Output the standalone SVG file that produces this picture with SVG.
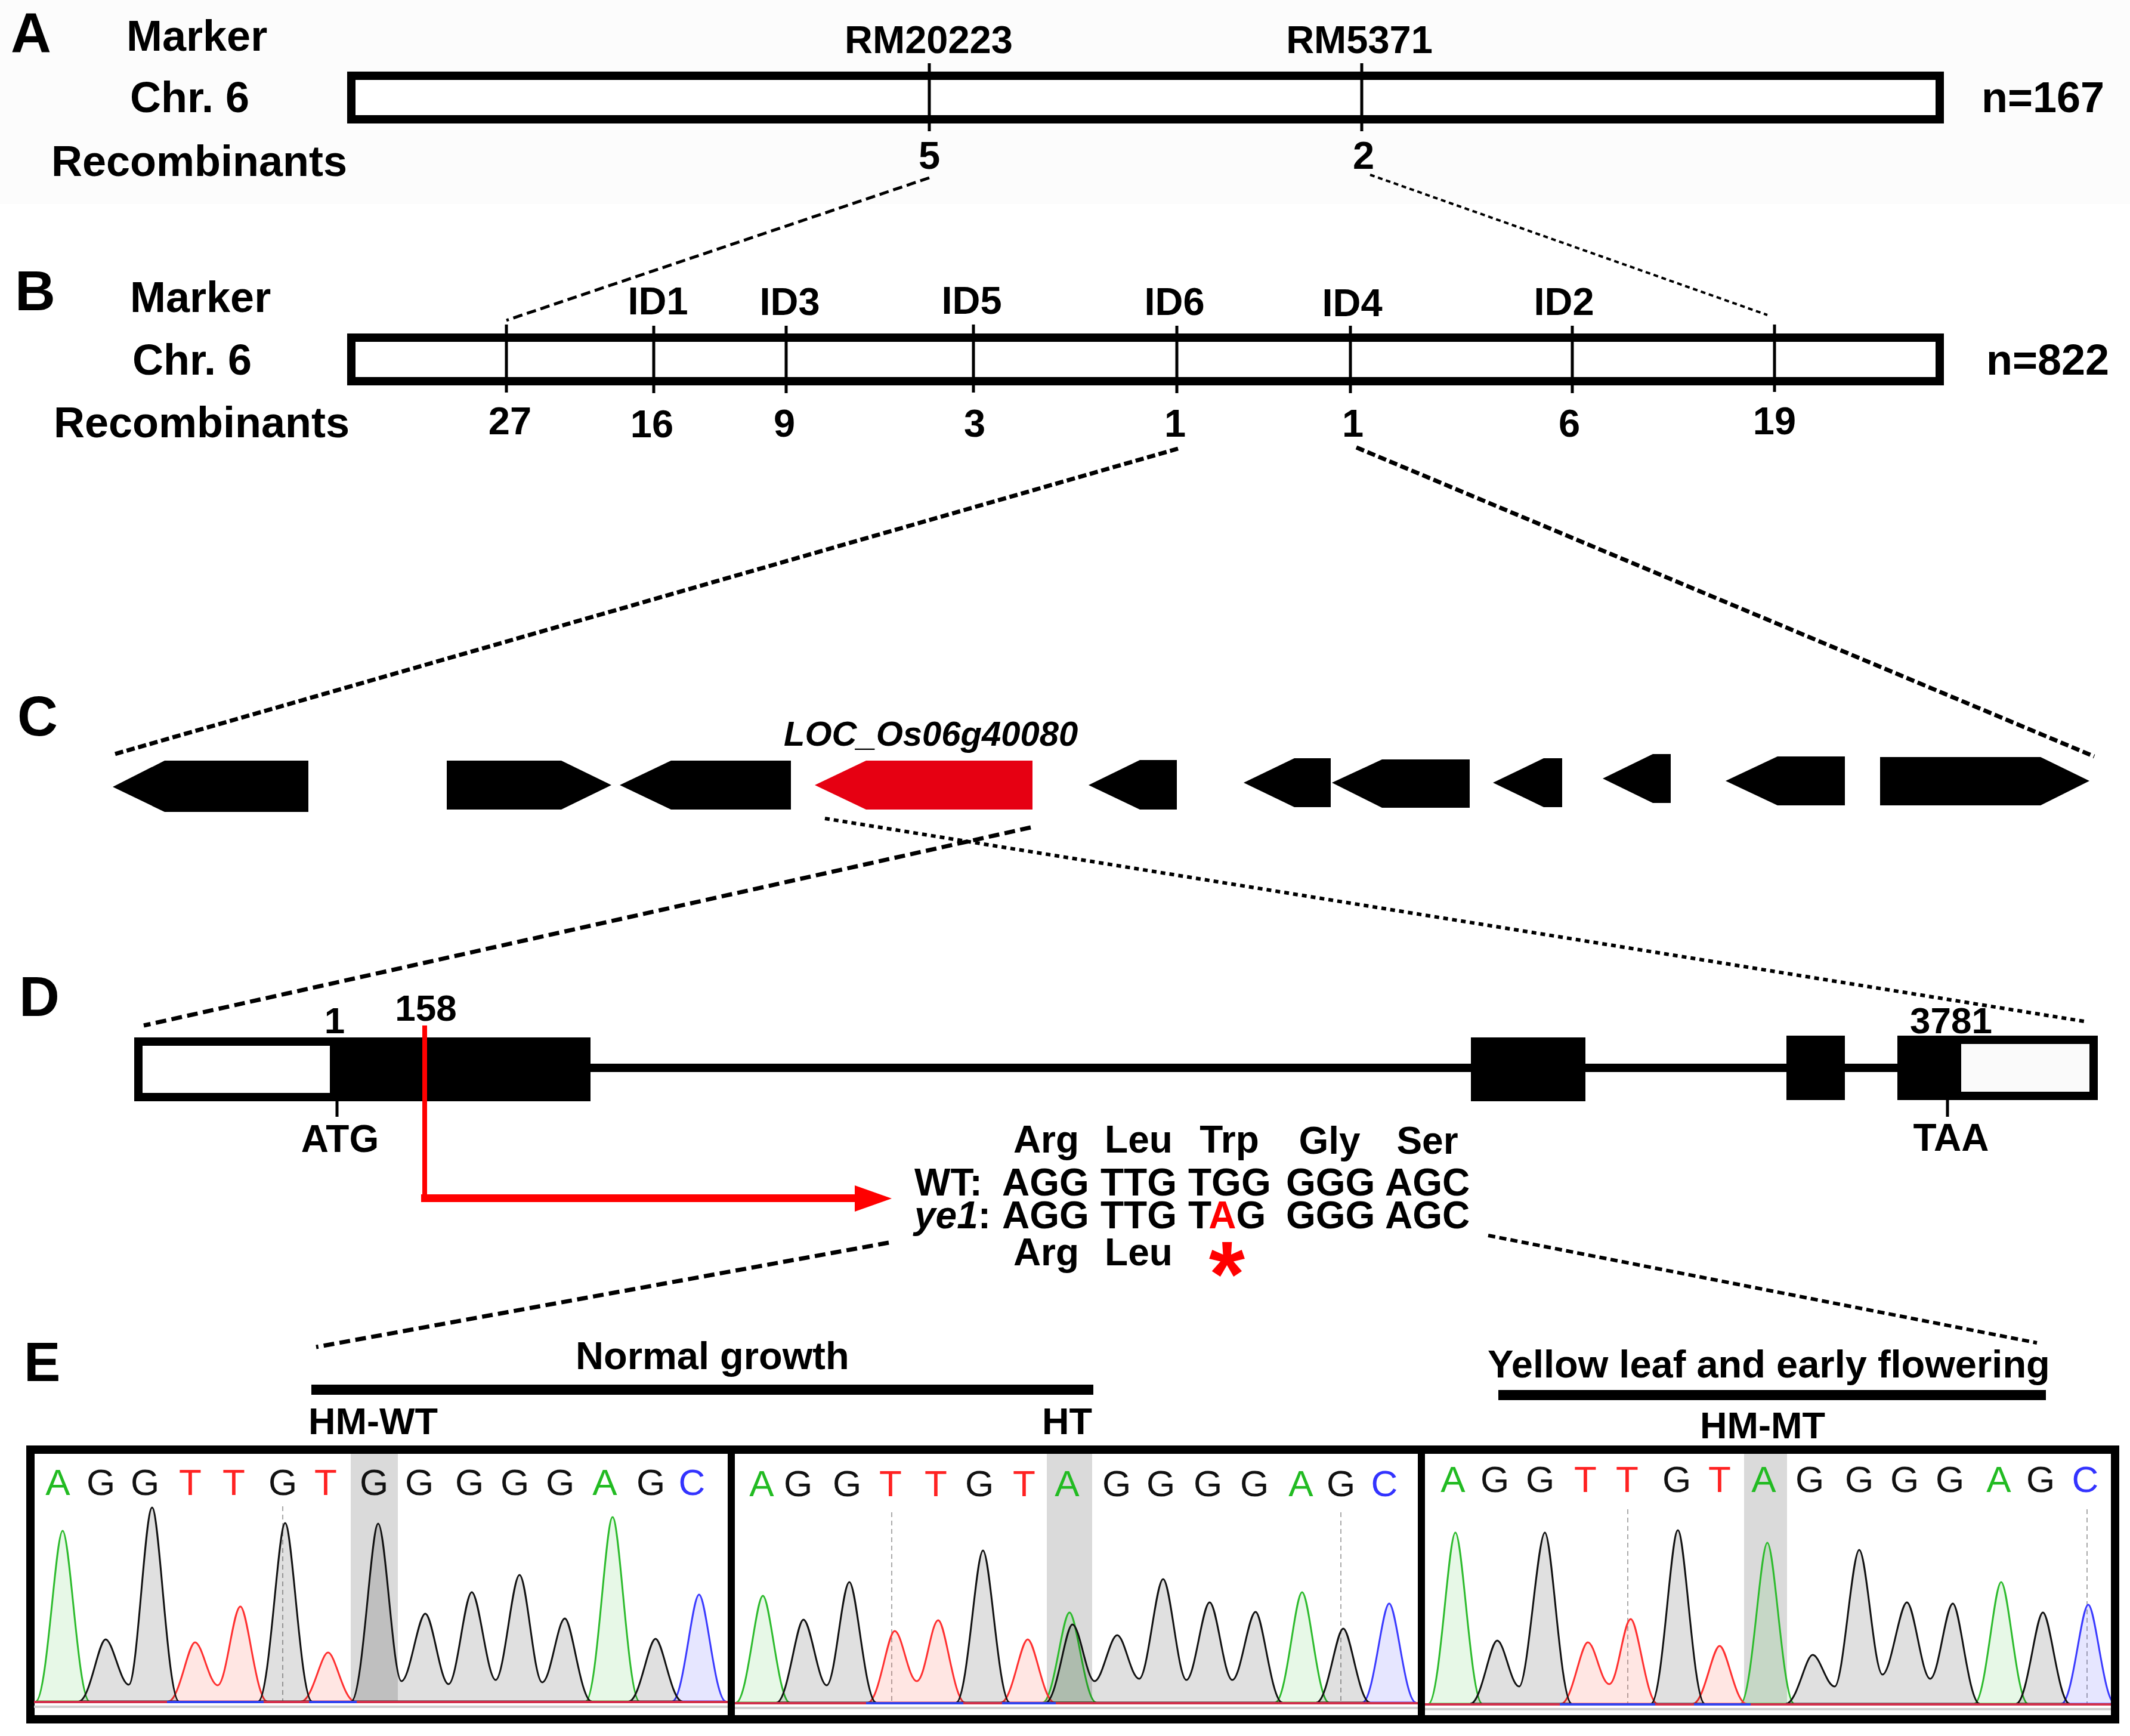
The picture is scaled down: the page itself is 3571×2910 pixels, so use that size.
<svg xmlns="http://www.w3.org/2000/svg" width="3571" height="2910" viewBox="0 0 3571 2910">
<defs>
<style>
.t{font-family:"Liberation Sans",Arial,sans-serif;font-weight:bold;fill:#000}
.lab{font-size:72px}
.pl{font-size:94px}
.mk{font-size:65px}
.aa{font-size:64px}
.bar{fill:#fff;stroke:#000;stroke-width:14}
.tick{stroke:#000;stroke-width:5}
.dl{fill:none;stroke:#000}
.gene{fill:#000}
.cl{font-family:"Liberation Sans",Arial,sans-serif;font-size:62px;font-weight:normal}
.cA{fill:#22bb22}.cG{fill:#111}.cT{fill:#ff2222}.cC{fill:#3333ff}
.pk{stroke-width:3}
.pG{stroke:#111;fill:rgba(0,0,0,0.12)}
.pA{stroke:#2dbb2d;fill:rgba(40,190,40,0.11)}
.pT{stroke:#ff3030;fill:rgba(255,60,40,0.13)}
.pC{stroke:#3a3aff;fill:rgba(60,60,255,0.13)}
.gd{stroke:#aaa;stroke-width:2;stroke-dasharray:8 6}
</style>
<clipPath id="cp1"><rect x="57" y="2437" width="1163" height="438"/></clipPath>
<clipPath id="cp2"><rect x="1232" y="2437" width="1145" height="438"/></clipPath>
<clipPath id="cp3"><rect x="2389" y="2437" width="1150" height="438"/></clipPath>
</defs>
<rect width="3571" height="2910" fill="#fff"/>
<rect width="3571" height="342" fill="#fcfcfc"/>

<g id="panelA">
<text class="t pl" x="18" y="88">A</text>
<text class="t lab" x="212" y="85">Marker</text>
<text class="t lab" x="218" y="188">Chr. 6</text>
<text class="t lab" x="86" y="295">Recombinants</text>
<rect class="bar" x="589" y="127" width="2663" height="73"/>
<line class="tick" x1="1558" y1="106" x2="1558" y2="220"/>
<line class="tick" x1="2283" y1="106" x2="2283" y2="220"/>
<text class="t mk" x="1557" y="89" text-anchor="middle">RM20223</text>
<text class="t mk" x="2279" y="89" text-anchor="middle">RM5371</text>
<text class="t mk" x="1558" y="283" text-anchor="middle">5</text>
<text class="t mk" x="2286" y="283" text-anchor="middle">2</text>
<text class="t lab" x="3322" y="188">n=167</text>
</g>

<g id="panelB">
<text class="t pl" x="25" y="520">B</text>
<text class="t lab" x="218" y="523">Marker</text>
<text class="t lab" x="222" y="628">Chr. 6</text>
<text class="t lab" x="90" y="733">Recombinants</text>
<rect class="bar" x="589" y="566" width="2663" height="73"/>
<g class="tick">
<line x1="849" y1="544" x2="849" y2="658"/>
<line x1="1096" y1="546" x2="1096" y2="659"/>
<line x1="1318" y1="546" x2="1318" y2="659"/>
<line x1="1632" y1="544" x2="1632" y2="658"/>
<line x1="1973" y1="546" x2="1973" y2="659"/>
<line x1="2264" y1="546" x2="2264" y2="659"/>
<line x1="2636" y1="546" x2="2636" y2="659"/>
<line x1="2975" y1="544" x2="2975" y2="657"/>
</g>
<g class="t mk" text-anchor="middle">
<text x="1103" y="527">ID1</text>
<text x="1324" y="528">ID3</text>
<text x="1629" y="526">ID5</text>
<text x="1969" y="528">ID6</text>
<text x="2267" y="530">ID4</text>
<text x="2622" y="528">ID2</text>
<text x="855" y="728">27</text>
<text x="1093" y="733">16</text>
<text x="1315" y="732">9</text>
<text x="1634" y="732">3</text>
<text x="1970" y="732">1</text>
<text x="2268" y="732">1</text>
<text x="2631" y="732">6</text>
<text x="2975" y="728">19</text>
</g>
<text class="t lab" x="3330" y="628">n=822</text>
</g>

<g id="panelC">
<text class="t pl" x="29" y="1233">C</text>
<text class="t" x="1314" y="1250" font-size="58" font-style="italic">LOC_Os06g40080</text>
<polygon class="gene" points="189,1319 276,1275 517,1275 517,1361 276,1361"/>
<polygon class="gene" points="749,1275 941,1275 1025,1316 941,1357 749,1357"/>
<polygon class="gene" points="1039,1316 1125,1275 1326,1275 1326,1357 1125,1357"/>
<polygon id="target" fill="#e60012" points="1366,1316 1452,1275 1731,1275 1731,1357 1452,1357"/>
<polygon class="gene" points="1825,1316 1911,1274 1973,1274 1973,1357 1911,1357"/>
<polygon class="gene" points="2085,1312 2170,1271 2231,1271 2231,1353 2170,1353"/>
<polygon class="gene" points="2233,1312 2317,1273 2464,1273 2464,1354 2317,1354"/>
<polygon class="gene" points="2503,1312 2588,1271 2619,1271 2619,1353 2588,1353"/>
<polygon class="gene" points="2687,1305 2771,1264 2801,1264 2801,1346 2771,1346"/>
<polygon class="gene" points="2893,1309 2980,1268 3093,1268 3093,1350 2980,1350"/>
<polygon class="gene" points="3152,1269 3421,1269 3503,1309 3421,1350 3152,1350"/>
</g>

<g id="panelD">
<text class="t pl" x="32" y="1703">D</text>
<rect x="990" y="1783" width="2195" height="14" fill="#000"/>
<rect x="232" y="1746" width="328" height="93" fill="#fff" stroke="#000" stroke-width="14"/>
<rect x="560" y="1739" width="430" height="107" fill="#000"/>
<rect x="2466" y="1739" width="192" height="107" fill="#000"/>
<rect x="2995" y="1736" width="98" height="108" fill="#000"/>
<rect x="3181" y="1736" width="93" height="108" fill="#000"/>
<rect x="3281" y="1743" width="229" height="94" fill="#fafafa" stroke="#000" stroke-width="14"/>
<line class="tick" x1="565" y1="1846" x2="565" y2="1872"/>
<line class="tick" x1="3265" y1="1844" x2="3265" y2="1872"/>
<g class="t" font-size="62" text-anchor="middle">
<text x="561" y="1732">1</text>
<text x="714" y="1711">158</text>
<text x="3271" y="1732">3781</text>
</g>
<g class="t aa" text-anchor="middle">
<text x="570" y="1931">ATG</text>
<text x="3271" y="1929">TAA</text>
</g>
<line x1="712" y1="1719" x2="712" y2="2008" stroke="#ff0000" stroke-width="8"/>
<rect x="706" y="2002" width="729" height="13" fill="#ff0000"/>
<polygon points="1433,1987 1495,2009 1433,2031" fill="#ff0000"/>
<g class="t aa" text-anchor="middle">
<text x="1754" y="1932">Arg</text>
<text x="1909" y="1932">Leu</text>
<text x="2061" y="1932">Trp</text>
<text x="2229" y="1934">Gly</text>
<text x="2393" y="1934">Ser</text>
<text x="1754" y="2121">Arg</text>
<text x="1909" y="2121">Leu</text>
</g>
<g class="t aa">
<text x="1533" y="2004">WT:</text>
<text x="1680" y="2004">AGG</text>
<text x="1845" y="2004">TTG</text>
<text x="1992" y="2004">TGG</text>
<text x="2156" y="2004">GGG</text>
<text x="2322" y="2004">AGC</text>
<text x="1533" y="2059"><tspan font-style="italic">ye1</tspan>:</text>
<text x="1680" y="2059">AGG</text>
<text x="1845" y="2059">TTG</text>
<text x="1992" y="2059">T<tspan fill="#ff0000">A</tspan>G</text>
<text x="2156" y="2059">GGG</text>
<text x="2322" y="2059">AGC</text>
</g>
<text class="t" x="2057" y="2189" font-size="155" text-anchor="middle" style="fill:#ff0000">*</text>
</g>

<g id="connectors">
<line class="dl" x1="1558" y1="298" x2="849" y2="537" stroke-width="5" stroke-dasharray="16 8"/>
<line class="dl" x1="2297" y1="293" x2="2963" y2="528" stroke-width="4" stroke-dasharray="8 6"/>
<line class="dl" x1="1975" y1="752" x2="189" y2="1265" stroke-width="7" stroke-dasharray="14 6"/>
<line class="dl" x1="2274" y1="750" x2="3511" y2="1268" stroke-width="7" stroke-dasharray="14 6"/>
<line class="dl" x1="1383" y1="1372" x2="3500" y2="1713" stroke-width="6" stroke-dasharray="8 7"/>
<line class="dl" x1="1728" y1="1387" x2="241" y2="1719" stroke-width="7" stroke-dasharray="18 9"/>
<line class="dl" x1="1490" y1="2083" x2="530" y2="2258" stroke-width="7" stroke-dasharray="18 9"/>
<line class="dl" x1="2495" y1="2071" x2="3415" y2="2251" stroke-width="6" stroke-dasharray="12 7"/>
</g>

<g id="panelE">
<text class="t" x="40" y="2315" font-size="92">E</text>
<text class="t mk" x="965" y="2295">Normal growth</text>
<rect x="522" y="2321" width="1311" height="17" fill="#000"/>
<text class="t" x="517" y="2404" font-size="63">HM-WT</text>
<text class="t" x="1789" y="2404" font-size="63" text-anchor="middle">HT</text>
<text class="t mk" x="2494" y="2309">Yellow leaf and early flowering</text>
<rect x="2512" y="2330" width="918" height="17" fill="#000"/>
<text class="t" x="2955" y="2411" font-size="63" text-anchor="middle">HM-MT</text>
</g>

<g id="chromatograms">
<rect x="51" y="2430" width="3495" height="452" fill="#fff" stroke="#000" stroke-width="14"/>
<rect x="1220" y="2430" width="12" height="452" fill="#000"/>
<rect x="2377" y="2430" width="12" height="452" fill="#000"/>

<g id="trace-HM-WT" clip-path="url(#cp1)">
<rect x="588" y="2437" width="79" height="415" fill="#dadada"/>
<line x1="57" y1="2861" x2="1220" y2="2861" stroke="#cfcfcf" stroke-width="4"/>
<line class="gd" x1="474" y1="2525" x2="474" y2="2852"/>
<path class="pk pA" d="M60,2852 C79,2852 93,2566 105,2566 C117,2566 131,2852 150,2852 Z"/>
<path class="pk pA" d="M982,2852 C1001,2852 1015,2543 1027,2543 C1039,2543 1053,2852 1072,2852 Z"/>
<path class="pk pC" d="M1127,2852 C1146,2852 1160,2673 1172,2673 C1184,2673 1198,2852 1217,2852 Z"/>
<path class="pk pT" d="M282,2852 C301,2852 315,2753 327,2753 C339,2753 351,2825 365,2825 C379,2825 391,2693 403,2693 C415,2693 429,2852 448,2852 Z"/>
<path class="pk pT" d="M505,2852 C524,2852 538,2770 550,2770 C562,2770 576,2852 595,2852 Z"/>
<path class="pk pG" d="M132,2852 C151,2852 165,2748 177,2748 C189,2748 202,2824 216,2824 C230,2824 243,2527 255,2527 C267,2527 281,2852 300,2852 Z"/>
<path class="pk pG" d="M433,2852 C452,2852 466,2553 478,2553 C490,2553 504,2852 523,2852 Z"/>
<path class="pk pG" d="M589,2852 C608,2852 622,2554 634,2554 C646,2554 659,2818 673,2818 C687,2818 701,2705 713,2705 C725,2705 738,2823 752,2823 C766,2823 779,2669 791,2669 C803,2669 817,2816 831,2816 C845,2816 859,2640 871,2640 C883,2640 895,2820 909,2820 C923,2820 935,2713 947,2713 C959,2713 973,2852 992,2852 Z"/>
<path class="pk pG" d="M1054,2852 C1073,2852 1087,2747 1099,2747 C1111,2747 1125,2852 1144,2852 Z"/>
<line x1="57" y1="2853" x2="1220" y2="2853" stroke="#d2304c" stroke-width="4"/>
<line x1="280" y1="2853" x2="442" y2="2853" stroke="#3344ee" stroke-width="4"/>
<line x1="518" y1="2853" x2="598" y2="2853" stroke="#3344ee" stroke-width="4"/>
<g class="cl" text-anchor="middle">
<text class="cA" x="97" y="2506">A</text><text class="cG" x="169" y="2506">G</text><text class="cG" x="243" y="2506">G</text><text class="cT" x="319" y="2506">T</text><text class="cT" x="392" y="2506">T</text><text class="cG" x="474" y="2506">G</text><text class="cT" x="546" y="2506">T</text><text class="cG" x="627" y="2506">G</text><text class="cG" x="703" y="2506">G</text><text class="cG" x="787" y="2506">G</text><text class="cG" x="863" y="2506">G</text><text class="cG" x="939" y="2506">G</text><text class="cA" x="1014" y="2506">A</text><text class="cG" x="1091" y="2506">G</text><text class="cC" x="1160" y="2506">C</text>
</g>
</g>

<g id="trace-HT" clip-path="url(#cp2)">
<rect x="1755" y="2437" width="76" height="417" fill="#dadada"/>
<line x1="1232" y1="2863" x2="2377" y2="2863" stroke="#cfcfcf" stroke-width="4"/>
<line class="gd" x1="1495" y1="2535" x2="1495" y2="2854"/>
<line class="gd" x1="2248" y1="2535" x2="2248" y2="2854"/>
<path class="pk pA" d="M1234,2854 C1253,2854 1267,2675 1279,2675 C1291,2675 1305,2854 1324,2854 Z"/>
<path class="pk pA" d="M1748,2854 C1767,2854 1781,2703 1793,2703 C1805,2703 1819,2854 1838,2854 Z"/>
<path class="pk pA" d="M2138,2854 C2157,2854 2171,2669 2183,2669 C2195,2669 2209,2854 2228,2854 Z"/>
<path class="pk pC" d="M2284,2854 C2303,2854 2317,2688 2329,2688 C2341,2688 2355,2854 2374,2854 Z"/>
<path class="pk pT" d="M1455,2854 C1474,2854 1488,2734 1500,2734 C1512,2734 1523,2818 1537,2818 C1551,2818 1561,2716 1573,2716 C1585,2716 1599,2854 1618,2854 Z"/>
<path class="pk pT" d="M1678,2854 C1697,2854 1711,2748 1723,2748 C1735,2748 1749,2854 1768,2854 Z"/>
<path class="pk pG" d="M1302,2854 C1321,2854 1335,2715 1347,2715 C1359,2715 1372,2825 1386,2825 C1400,2825 1412,2652 1424,2652 C1436,2652 1450,2854 1469,2854 Z"/>
<path class="pk pG" d="M1603,2854 C1622,2854 1636,2599 1648,2599 C1660,2599 1674,2854 1693,2854 Z"/>
<path class="pk pG" d="M1753,2854 C1772,2854 1786,2723 1798,2723 C1810,2723 1822,2818 1835,2818 C1848,2818 1861,2741 1873,2741 C1885,2741 1896,2814 1910,2814 C1924,2814 1938,2647 1950,2647 C1962,2647 1975,2816 1989,2816 C2003,2816 2016,2686 2028,2686 C2040,2686 2052,2816 2066,2816 C2080,2816 2093,2702 2105,2702 C2117,2702 2131,2854 2150,2854 Z"/>
<path class="pk pG" d="M2207,2854 C2226,2854 2240,2730 2252,2730 C2264,2730 2278,2854 2297,2854 Z"/>
<line x1="1232" y1="2855" x2="2377" y2="2855" stroke="#d2304c" stroke-width="4"/>
<line x1="1452" y1="2855" x2="1615" y2="2855" stroke="#3344ee" stroke-width="4"/>
<line x1="1680" y1="2855" x2="1770" y2="2855" stroke="#3344ee" stroke-width="4"/>
<g class="cl" text-anchor="middle">
<text class="cA" x="1277" y="2508">A</text><text class="cG" x="1338" y="2508">G</text><text class="cG" x="1420" y="2508">G</text><text class="cT" x="1493" y="2508">T</text><text class="cT" x="1569" y="2508">T</text><text class="cG" x="1642" y="2508">G</text><text class="cT" x="1717" y="2508">T</text><text class="cA" x="1789" y="2508">A</text><text class="cG" x="1872" y="2508">G</text><text class="cG" x="1946" y="2508">G</text><text class="cG" x="2025" y="2508">G</text><text class="cG" x="2103" y="2508">G</text><text class="cA" x="2181" y="2508">A</text><text class="cG" x="2248" y="2508">G</text><text class="cC" x="2321" y="2508">C</text>
</g>
</g>

<g id="trace-HM-MT" clip-path="url(#cp3)">
<rect x="2924" y="2437" width="72" height="419" fill="#dadada"/>
<line x1="2389" y1="2865" x2="3540" y2="2865" stroke="#cfcfcf" stroke-width="4"/>
<line class="gd" x1="2729" y1="2530" x2="2729" y2="2856"/>
<line class="gd" x1="3499" y1="2530" x2="3499" y2="2856"/>
<path class="pk pA" d="M2395,2856 C2414,2856 2428,2569 2440,2569 C2452,2569 2466,2856 2485,2856 Z"/>
<path class="pk pA" d="M2918,2856 C2937,2856 2951,2586 2963,2586 C2975,2586 2989,2856 3008,2856 Z"/>
<path class="pk pA" d="M3310,2856 C3329,2856 3343,2652 3355,2652 C3367,2652 3381,2856 3400,2856 Z"/>
<path class="pk pC" d="M3456,2856 C3475,2856 3489,2690 3501,2690 C3513,2690 3527,2856 3546,2856 Z"/>
<path class="pk pT" d="M2617,2856 C2636,2856 2650,2753 2662,2753 C2674,2753 2684,2823 2698,2823 C2712,2823 2722,2714 2734,2714 C2746,2714 2760,2856 2779,2856 Z"/>
<path class="pk pT" d="M2838,2856 C2857,2856 2871,2759 2883,2759 C2895,2759 2909,2856 2928,2856 Z"/>
<path class="pk pG" d="M2465,2856 C2484,2856 2498,2750 2510,2750 C2522,2750 2533,2827 2547,2827 C2561,2827 2578,2569 2590,2569 C2602,2569 2616,2856 2635,2856 Z"/>
<path class="pk pG" d="M2768,2856 C2787,2856 2801,2565 2813,2565 C2825,2565 2839,2856 2858,2856 Z"/>
<path class="pk pG" d="M2994,2856 C3013,2856 3027,2774 3039,2774 C3051,2774 3062,2827 3076,2827 C3090,2827 3105,2598 3117,2598 C3129,2598 3142,2807 3156,2807 C3170,2807 3185,2686 3197,2686 C3209,2686 3222,2814 3236,2814 C3250,2814 3262,2688 3274,2688 C3286,2688 3300,2856 3319,2856 Z"/>
<path class="pk pG" d="M3380,2856 C3399,2856 3413,2703 3425,2703 C3437,2703 3451,2856 3470,2856 Z"/>
<line x1="2389" y1="2857" x2="3540" y2="2857" stroke="#d2304c" stroke-width="4"/>
<line x1="2615" y1="2857" x2="2775" y2="2857" stroke="#3344ee" stroke-width="4"/>
<line x1="2840" y1="2857" x2="2935" y2="2857" stroke="#3344ee" stroke-width="4"/>
<g class="cl" text-anchor="middle">
<text class="cA" x="2436" y="2501">A</text><text class="cG" x="2506" y="2501">G</text><text class="cG" x="2582" y="2501">G</text><text class="cT" x="2658" y="2501">T</text><text class="cT" x="2728" y="2501">T</text><text class="cG" x="2811" y="2501">G</text><text class="cT" x="2883" y="2501">T</text><text class="cA" x="2957" y="2501">A</text><text class="cG" x="3034" y="2501">G</text><text class="cG" x="3117" y="2501">G</text><text class="cG" x="3193" y="2501">G</text><text class="cG" x="3269" y="2501">G</text><text class="cA" x="3351" y="2501">A</text><text class="cG" x="3421" y="2501">G</text><text class="cC" x="3496" y="2501">C</text>
</g>
</g>
</g>
</svg>
